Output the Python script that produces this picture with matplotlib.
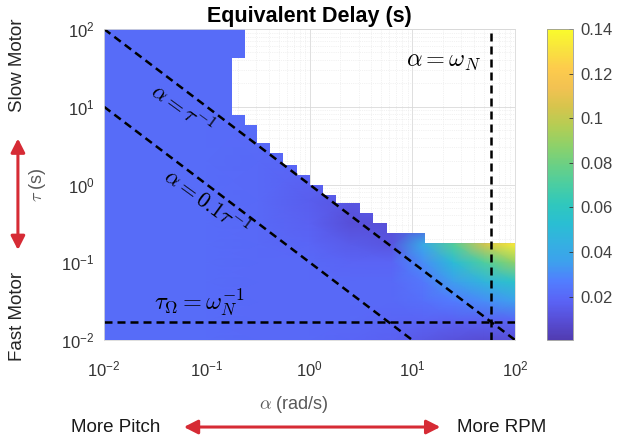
import numpy as np
import matplotlib.pyplot as plt
from matplotlib.colors import LinearSegmentedColormap
from matplotlib.path import Path
from matplotlib.patches import FancyArrowPatch

plt.rcParams['font.family'] = ['Liberation Sans', 'DejaVu Sans']
plt.rcParams['mathtext.fontset'] = 'cm'

# coarse table of equivalent delay (s)
log_alpha = np.array([-2, -1, -0.5, 0, 0.4, 0.8, 1.1, 1.4, 1.7, 2.0])
log_tau = np.array([-2, -1.75, -1.5, -1.25, -1.0, -0.77, -0.5, -0.2, 0.3, 1, 2])
delay = np.array([
    [0.021, 0.021, 0.020, 0.020, 0.019, 0.017, 0.014, 0.011, 0.009, 0.010],
    [0.021, 0.021, 0.020, 0.020, 0.020, 0.019, 0.018, 0.017, 0.017, 0.019],
    [0.021, 0.021, 0.020, 0.020, 0.020, 0.020, 0.022, 0.026, 0.031, 0.035],
    [0.021, 0.021, 0.020, 0.020, 0.020, 0.020, 0.025, 0.035, 0.047, 0.056],
    [0.021, 0.021, 0.020, 0.020, 0.018, 0.018, 0.031, 0.051, 0.071, 0.088],
    [0.021, 0.021, 0.020, 0.019, 0.015, 0.012, 0.040, 0.072, 0.104, 0.134],
    [0.021, 0.021, 0.020, 0.017, 0.010, 0.010, 0.012, 0.020, 0.020, 0.020],
    [0.021, 0.021, 0.020, 0.016, 0.013, 0.020, 0.020, 0.020, 0.020, 0.020],
    [0.021, 0.021, 0.020, 0.019, 0.020, 0.020, 0.020, 0.020, 0.020, 0.020],
    [0.021, 0.021, 0.021, 0.021, 0.021, 0.021, 0.021, 0.021, 0.021, 0.021],
    [0.021, 0.021, 0.021, 0.021, 0.021, 0.021, 0.021, 0.021, 0.021, 0.021],
])

# staircase edge of the valid region: upper log10(tau) of each row, max log10(alpha)
step_tau_hi = [2.0, 1.63, 0.89, 0.77, 0.53, 0.41, 0.25, 0.12, -0.01, -0.14,
               -0.24, -0.37, -0.50, -0.62, -0.75]
step_alpha_max = [-0.63, -0.75, -0.63, -0.51, -0.38, -0.26, -0.12, 0.0, 0.13,
                  0.26, 0.49, 0.62, 0.75, 1.12, 2.0]

omega_N = 59.0
cbar_ticks = [0.02, 0.04, 0.06, 0.08, 0.1, 0.12, 0.14]

# parula-like colormap, slightly washed out
parula_pts = [
    (0.2422, 0.1504, 0.6603), (0.2691, 0.2290, 0.8230), (0.2810, 0.3228, 0.9578),
    (0.2440, 0.4358, 0.9988), (0.1540, 0.5902, 0.9218), (0.1160, 0.6580, 0.8700),
    (0.0709, 0.7190, 0.8058), (0.0985, 0.7593, 0.7094), (0.2161, 0.7843, 0.5923),
    (0.3513, 0.7962, 0.4676), (0.5044, 0.7993, 0.3480), (0.6713, 0.7836, 0.2558),
    (0.8215, 0.7456, 0.2224), (0.9436, 0.7332, 0.2452), (0.9932, 0.7752, 0.2210),
    (0.9702, 0.8792, 0.1585), (0.9769, 0.9839, 0.0805)]
parula_pts = [tuple(0.9 * c + 0.1 for c in p) for p in parula_pts]
parula = LinearSegmentedColormap.from_list('parula', parula_pts)

fig = plt.figure(figsize=(6.18, 4.45), dpi=100)
ax = fig.add_axes([104 / 618, 1 - 340 / 445, 411 / 618, 311 / 445])
ax.set_xscale('log')
ax.set_yscale('log')
ax.set_xlim(1e-2, 1e2)
ax.set_ylim(1e-2, 1e2)
ax.set_axisbelow(True)
ax.grid(True, which='major', color='0.85', lw=0.6)
ax.grid(True, which='minor', color='0.9', lw=0.5, ls=':')

A, T = np.meshgrid(10.0 ** log_alpha, 10.0 ** log_tau)
mesh = ax.pcolormesh(A, T, delay, shading='gouraud', cmap=parula,
                     vmin=0.0005, vmax=0.14)

# clip the field to the staircase region
verts = [(1e-2, 1e2)]
for i in range(len(step_tau_hi)):
    lo = step_tau_hi[i + 1] if i + 1 < len(step_tau_hi) else -2.0
    verts.append((10 ** step_alpha_max[i], 10 ** step_tau_hi[i]))
    verts.append((10 ** step_alpha_max[i], 10 ** lo))
verts.append((1e-2, 1e-2))
verts.append((1e-2, 1e2))
mesh.set_clip_path(Path(verts, closed=True), transform=ax.transData)

dash = dict(color='black', lw=1.8, dashes=(3.2, 2.0))
a_line = np.array([1e-2, 1e2])
ax.plot(a_line, 1 / a_line, **dash)
ax.plot(a_line, 0.1 / a_line, **dash)
ax.plot(a_line, [1 / omega_N] * 2, **dash)
ax.plot([omega_N] * 2, [1e-2, 1e2], **dash)

ax.text(0.057, 8.9, r'$\alpha = \tau^{-1}$', fontsize=16, rotation=-36,
        ha='center', va='center', rotation_mode='anchor')
ax.text(0.097, 0.57, r'$\alpha = 0.1\tau^{-1}$', fontsize=16, rotation=-36,
        ha='center', va='center', rotation_mode='anchor')
ax.text(46.5, 37.7, r'$\alpha = \omega_N$', fontsize=17.5, ha='right', va='center')
ax.text(0.0305, 0.0305, r'$\tau_\Omega = \omega_N^{-1}$', fontsize=17.5,
        ha='left', va='center')

ax.set_title('Equivalent Delay (s)', fontsize=15.5, fontweight='bold', pad=5)
ax.set_xlabel(r'$\alpha$ (rad/s)', fontsize=13, color='0.35')
ax.xaxis.set_label_coords(0.462, -0.175)
ax.set_ylabel(r'$\tau$ (s)', fontsize=13, color='0.35')
ax.yaxis.set_label_coords(-0.137, 0.5)
ax.tick_params(which='both', length=0, labelsize=12, labelcolor='0.2')
ax.tick_params(axis='x', pad=14)
ax.tick_params(axis='y', pad=7)
for s in ax.spines.values():
    s.set_color('0.85')
    s.set_linewidth(0.6)

cax = fig.add_axes([547 / 618, 1 - 340 / 445, 26 / 618, 311 / 445])
cb = fig.colorbar(mesh, cax=cax, ticks=cbar_ticks)
cb.ax.set_yticklabels(['%g' % t for t in cbar_ticks])
cb.ax.tick_params(direction='in', length=3, width=0.6, color='0.2',
                  labelsize=12, labelcolor='0.25', pad=5)
cb.outline.set_edgecolor('0.6')
cb.outline.set_linewidth(0.6)

red = '#d62b35'
arrow = dict(arrowstyle='<|-|>,head_length=0.55,head_width=0.28',
             mutation_scale=15, color=red, lw=2.2, transform=fig.transFigure)
fig.text(0.028, 0.854, 'Slow Motor', rotation=90, fontsize=13.5, ha='center',
         va='center', color='0.15')
fig.text(0.028, 0.29, 'Fast Motor', rotation=90, fontsize=13.5, ha='center',
         va='center', color='0.15')
fig.text(0.188, 0.04, 'More Pitch', fontsize=13.5, ha='center', va='center',
         color='0.1')
fig.text(0.811, 0.04, 'More RPM', fontsize=13.5, ha='center', va='center',
         color='0.1')
fig.add_artist(FancyArrowPatch((0.029, 0.695), (0.029, 0.432), **arrow))
fig.add_artist(FancyArrowPatch((0.293, 0.0404), (0.717, 0.0404), **arrow))

fig.savefig('out.png', dpi=100)
